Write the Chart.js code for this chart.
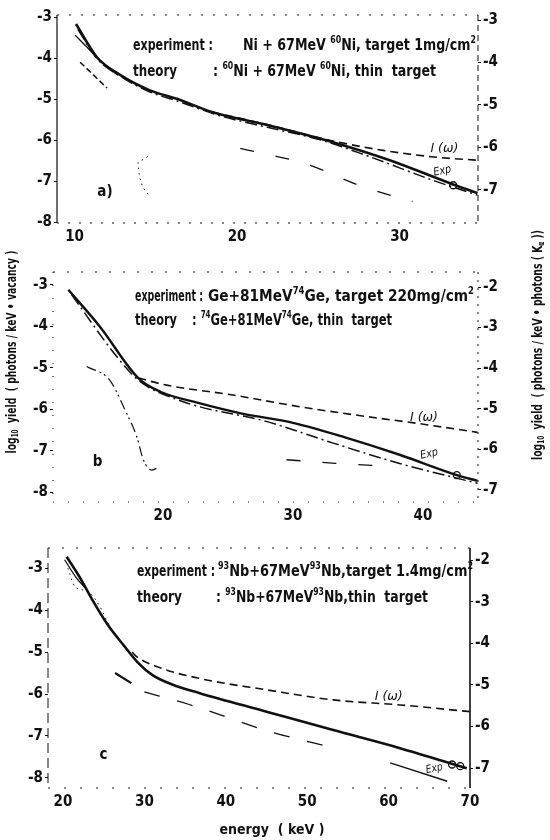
<!DOCTYPE html>
<html>
<head>
<meta charset="utf-8">
<script src="https://cdn.jsdelivr.net/npm/chart.js@4.4.1/dist/chart.umd.min.js"></script>
<style>
  body { margin: 0; background: #fff; width: 550px; height: 840px; position: relative; overflow: hidden; }
  canvas { position: absolute; left: 0; }
</style>
</head>
<body>
<canvas id="panelA" width="550" height="250" style="top:0"></canvas>
<canvas id="panelB" width="550" height="310" style="top:220px"></canvas>
<canvas id="panelC" width="550" height="310" style="top:530px"></canvas>
<script>
// energy (keV), log10 yield pairs for each curve

// a) Ni + Ni
const A_EXP = [[10.09, -3.17], [11.38, -3.98], [12.8, -4.41], [14.6, -4.78], [16.5, -5.02], [18.5, -5.32], [21.85, -5.63], [25.9, -6.05], [29.4, -6.49], [33.3, -7.08], [34.8, -7.29]];
const A_IW = [[18.5, -5.32], [21.85, -5.62], [25.9, -6.02], [29.0, -6.25], [32.1, -6.41], [34.8, -6.49]];
const A_DASHDOT = [[10.2, -3.3], [11.4, -4.02], [12.8, -4.44], [14.6, -4.82], [16.5, -5.07], [18.9, -5.4], [22.0, -5.7], [25.0, -5.98], [28.0, -6.38], [32.2, -7.0], [34.8, -7.34]];
const A_THIN = [[10.03, -3.44], [10.8, -3.75], [11.6, -4.08], [12.6, -4.4]];
const A_SHORT = [[10.34, -4.1], [12.0, -4.73]];
const A_LOW = [[20.2, -6.2], [24.4, -6.6], [27.5, -7.1], [30.8, -7.5]];
const A_DOTS = [[14.5, -6.4], [13.9, -6.55], [14.0, -6.9], [14.2, -7.15], [14.6, -7.35]];
const A_MARK = [[33.3, -7.1]];

// b) Ge + Ge
const B_EXP = [[12.72, -3.12], [15.15, -4.01], [18.1, -5.25], [19.8, -5.58], [22.85, -5.86], [26.0, -6.1], [30.0, -6.33], [34.0, -6.68], [38.2, -7.1], [42.6, -7.59], [44.2, -7.73]];
const B_IW = [[18.1, -5.25], [20.28, -5.42], [25.4, -5.66], [30.5, -5.94], [35.7, -6.18], [39.5, -6.34], [44.2, -6.56]];
const B_DASHDOT = [[12.98, -3.24], [16.44, -4.73], [18.1, -5.3], [21.56, -5.82], [28.0, -6.3], [33.1, -6.82], [38.2, -7.31], [44.2, -7.79]];
const B_STEEP = [[14.13, -4.97], [15.9, -5.3], [17.2, -6.1], [17.98, -6.66], [18.5, -7.23], [19.13, -7.47], [19.5, -7.43]];
const B_LOW = [[29.5, -7.22], [33.0, -7.3], [37.5, -7.38]];
const B_MARK = [[42.6, -7.59]];

// c) Nb + Nb
const C_EXP = [[20.45, -2.73], [22.0, -3.2], [23.5, -3.72], [25.5, -4.35], [27.5, -4.85], [29.2, -5.25], [31.0, -5.55], [33.5, -5.78], [36.8, -5.98], [45.0, -6.42], [53.2, -6.86], [61.4, -7.29], [69.6, -7.77]];
const C_LOOP = [[20.2, -2.8], [21.6, -3.22], [22.6, -3.45]];
const C_IW = [[28.5, -5.0], [29.05, -5.11], [32.0, -5.38], [36.8, -5.63], [45.0, -5.9], [53.2, -6.14], [61.4, -6.26], [70.0, -6.42]];
const C_LOW = [[30.0, -5.95], [35.5, -6.25], [45.5, -6.9], [53.6, -7.3]];
const C_TAIL = [[60.2, -7.64], [67.2, -8.08]];
const C_SEG = [[26.4, -5.5], [28.4, -5.74]];
const C_DOTS = [[20.6, -3.0], [21.5, -3.45], [23.0, -3.55], [24.5, -3.9], [25.5, -4.3], [26.8, -4.7], [28.0, -5.0]];
const C_MARK = [[67.8, -7.68], [68.8, -7.72]];

// tick values
const A_XTICKS = [10, 20, 30];
const A_LEFT = [-3, -4, -5, -6, -7, -8];
const A_RIGHT = [-3, -4, -5, -6, -7];
const B_XTICKS = [20, 30, 40];
const B_LEFT = [-3, -4, -5, -6, -7, -8];
const B_RIGHT = [-2, -3, -4, -5, -6, -7];
const C_XTICKS = [20, 30, 40, 50, 60, 70];
const C_LEFT = [-3, -4, -5, -6, -7, -8];
const C_RIGHT = [-2, -3, -4, -5, -6, -7];

const INK = '#111';
const FONT = '"DejaVu Sans Condensed", "Liberation Sans Narrow", "DejaVu Sans", sans-serif';

// per-canvas text and frame styles, read by the decor plugin
const DECOR = {};

function pts(arr) {
    return arr.map(([x, y]) => ({ x: x, y: y }));
}

function line(arr, width, dash, extra) {
    return Object.assign({
        data: pts(arr),
        borderColor: INK,
        borderWidth: width,
        borderDash: dash || [],
        pointRadius: 0,
        fill: false,
        tension: 0.4,
        cubicInterpolationMode: 'monotone'
    }, extra || {});
}

function marks(arr) {
    return {
        data: pts(arr),
        showLine: false,
        pointRadius: 3.5,
        pointBackgroundColor: '#fff',
        pointBorderColor: INK,
        pointBorderWidth: 1.3
    };
}

// text with super/subscript runs, squeezed to a given width
function drawRich(ctx, item, x, y) {
    const size = item.size || 16;
    const weight = item.weight || 'bold';
    const style = item.italic ? 'italic' : 'normal';
    const runs = item.parts.map(p => typeof p === 'string' ? { t: p } : Object.assign({}, p));
    let total = 0;
    runs.forEach(r => {
        r.s = (r.sup || r.sub) ? size * 0.62 : size;
        ctx.font = style + ' ' + weight + ' ' + r.s + 'px ' + FONT;
        r.w = ctx.measureText(r.t).width;
        total += r.w;
    });
    const sx = item.width ? item.width / total : 1;
    ctx.save();
    ctx.translate(x, y);
    if (item.rotate) ctx.rotate(item.rotate);
    if (item.align === 'center') ctx.translate(-total * sx / 2, 0);
    ctx.scale(sx, 1);
    ctx.fillStyle = INK;
    ctx.textBaseline = 'middle';
    ctx.textAlign = 'left';
    let cx = 0;
    runs.forEach(r => {
        ctx.font = style + ' ' + weight + ' ' + r.s + 'px ' + FONT;
        const dy = r.sup ? -size * 0.36 : (r.sub ? size * 0.3 : 0);
        ctx.fillText(r.t, cx, dy);
        cx += r.w;
    });
    ctx.restore();
}

function edge(ctx, x1, y1, x2, y2, style) {
    if (!style) return;
    ctx.save();
    ctx.strokeStyle = INK;
    ctx.lineWidth = style.w || 1;
    ctx.setLineDash(style.dash || []);
    ctx.beginPath();
    ctx.moveTo(x1, y1);
    ctx.lineTo(x2, y2);
    ctx.stroke();
    ctx.restore();
}

Chart.register({
    id: 'decor',
    beforeDatasetsDraw(chart) {
        const d = DECOR[chart.canvas.id];
        if (!d) return;
        const a = chart.chartArea;
        edge(chart.ctx, a.left, a.top, a.right, a.top, d.frame.top);
        edge(chart.ctx, a.left, a.bottom, a.right, a.bottom, d.frame.bottom);
        edge(chart.ctx, a.left, a.top, a.left, a.bottom, d.frame.left);
        edge(chart.ctx, a.right, a.top, a.right, a.bottom, d.frame.right);
    },
    afterDraw(chart) {
        const d = DECOR[chart.canvas.id];
        if (!d) return;
        d.notes.forEach(item => {
            let x, y;
            if (item.at) {
                x = chart.scales.x.getPixelForValue(item.at[0]);
                y = chart.scales.y.getPixelForValue(item.at[1]);
            } else {
                x = item.px[0];
                y = item.px[1];
            }
            drawRich(chart.ctx, item, x, y);
        });
    }
});

function makeChart(id, cfg) {
    DECOR[id] = { notes: cfg.notes, frame: cfg.frame };
    const fixW = w => scale => { scale.width = w; };
    const fixH = h => scale => { scale.height = h; };
    const setTicks = vals => scale => { scale.ticks = vals.map(v => ({ value: v })); };
    const tickFont = { family: FONT, size: 15, weight: 'bold' };
    const yAxis = (pos, range, ticks, w) => ({
        type: 'linear',
        position: pos,
        min: range[0],
        max: range[1],
        afterBuildTicks: setTicks(ticks),
        afterFit: fixW(w),
        grid: { drawOnChartArea: false, tickLength: 3, color: INK },
        border: { display: false },
        ticks: { color: INK, font: tickFont, padding: 2, callback: v => String(v) }
    });
    return new Chart(document.getElementById(id), {
        type: 'line',
        data: { datasets: cfg.datasets },
        options: {
            responsive: false,
            animation: false,
            layout: { padding: { top: cfg.padTop, left: 0, right: 0, bottom: 0 } },
            plugins: {
                legend: { display: false },
                tooltip: { enabled: false }
            },
            scales: {
                x: {
                    type: 'linear',
                    position: 'bottom',
                    min: cfg.xRange[0],
                    max: cfg.xRange[1],
                    afterBuildTicks: setTicks(cfg.xTicks),
                    afterFit: fixH(cfg.xH),
                    grid: { drawOnChartArea: false, drawTicks: false },
                    border: { display: false },
                    ticks: { color: INK, font: tickFont, padding: 5, maxRotation: 0, autoSkip: false }
                },
                y: yAxis('left', cfg.yRange, cfg.yTicks, cfg.leftW),
                y2: yAxis('right', cfg.y2Range, cfg.y2Ticks, cfg.rightW)
            }
        }
    });
}

const DASH = [8, 5];
const DASHDOT = [12, 4, 2, 4];
const SPARSE = [14, 22];
const DOTTED = [1.5, 4];

const IW_LABEL = ['I (\u03c9)'];

makeChart('panelA', {
    padTop: 15,
    xH: 27,
    leftW: 57,
    rightW: 72,
    xRange: [8.92, 34.83],
    yRange: [-8.02, -2.95],
    y2Range: [-7.78, -2.88],
    xTicks: A_XTICKS,
    yTicks: A_LEFT,
    y2Ticks: A_RIGHT,
    frame: {
        left: { w: 1.2 },
        right: { dash: [6, 4] },
        bottom: { dash: [2, 9] },
        top: { dash: [2, 10] }
    },
    datasets: [
        line(A_EXP, 2.6),
        line(A_THIN, 1.3),
        line(A_IW, 1.6, DASH),
        line(A_DASHDOT, 1.5, DASHDOT),
        line(A_SHORT, 1.5, [6, 3]),
        line(A_LOW, 1.3, SPARSE),
        line(A_DOTS, 1, DOTTED, { tension: 0, cubicInterpolationMode: 'default' }),
        marks(A_MARK)
    ],
    notes: [
        { parts: ['experiment :'], px: [133, 46], width: 80 },
        { parts: ['Ni + 67MeV ', { t: '60', sup: true }, 'Ni, target 1mg/cm', { t: '2', sup: true }], px: [243, 46], width: 233 },
        { parts: ['theory'], px: [133, 72], width: 44 },
        { parts: [': ', { t: '60', sup: true }, 'Ni + 67MeV ', { t: '60', sup: true }, 'Ni, thin  target'], px: [213, 72], width: 223 },
        { parts: IW_LABEL, at: [31.9, -6.22], size: 12, weight: 'normal', italic: true, width: 28 },
        { parts: ['Exp'], at: [32.1, -6.8], size: 11, weight: 'normal', italic: true, rotate: -0.22, width: 18 },
        { parts: ['a)'], at: [11.4, -7.27], size: 15 }
    ]
});

makeChart('panelB', {
    padTop: 52,
    xH: 28,
    leftW: 53,
    rightW: 72,
    xRange: [11.54, 44.23],
    yRange: [-8.24, -2.69],
    y2Range: [-7.3, -1.63],
    xTicks: B_XTICKS,
    yTicks: B_LEFT,
    y2Ticks: B_RIGHT,
    frame: {
        left: { dash: [1, 12] },
        right: { dash: [2, 6] },
        bottom: { dash: [1, 14] },
        top: { dash: [2, 12] }
    },
    datasets: [
        line(B_EXP, 2.4),
        line(B_IW, 1.6, DASH),
        line(B_DASHDOT, 1.5, DASHDOT),
        line(B_STEEP, 1.2, [10, 4, 2, 3, 2, 4]),
        line(B_LOW, 1.3, SPARSE),
        marks(B_MARK)
    ],
    notes: [
        { parts: ['experiment :'], px: [135, 77], width: 68 },
        { parts: ['Ge+81MeV', { t: '74', sup: true }, 'Ge, target 220mg/cm', { t: '2', sup: true }], px: [208, 77], width: 266 },
        { parts: ['theory'], px: [135, 101], width: 42 },
        { parts: [': ', { t: '74', sup: true }, 'Ge+81MeV', { t: '74', sup: true }, 'Ge, thin  target'], px: [192, 101], width: 200 },
        { parts: IW_LABEL, at: [39.0, -6.2], size: 12, weight: 'normal', italic: true, width: 28 },
        { parts: ['Exp'], at: [39.8, -7.13], size: 11, weight: 'normal', italic: true, rotate: -0.22, width: 18 },
        { parts: ['b'], at: [14.6, -7.27], size: 15 },
        // side titles for the whole figure
        { parts: ['log', { t: '10', sub: true }, '  yield  ( photons / keV \u2022 vacancy )'], px: [12, 132], rotate: -Math.PI / 2, align: 'center', size: 14, width: 203 },
        { parts: ['log', { t: '10', sub: true }, '  yield  ( photons / keV \u2022 photons ( K', { t: '\u03b1', sub: true }, ' ))'], px: [538, 125], rotate: -Math.PI / 2, align: 'center', size: 14, width: 230 }
    ]
});

makeChart('panelC', {
    padTop: 18,
    xH: 52,
    leftW: 48,
    rightW: 80,
    xRange: [18.16, 70],
    yRange: [-8.24, -2.52],
    y2Range: [-7.48, -1.71],
    xTicks: C_XTICKS,
    yTicks: C_LEFT,
    y2Ticks: C_RIGHT,
    frame: {
        left: { dash: [10, 5] },
        right: { w: 1.6 },
        bottom: { dash: [2, 14] },
        top: { dash: [2, 12] }
    },
    datasets: [
        line(C_EXP, 2.6),
        line(C_LOOP, 1.3),
        line(C_IW, 1.6, DASH),
        line(C_LOW, 1.3, [16, 18]),
        line(C_TAIL, 1.4),
        line(C_SEG, 2.2),
        line(C_DOTS, 1, DOTTED),
        marks(C_MARK)
    ],
    notes: [
        { parts: ['experiment :'], px: [137, 42], width: 78 },
        { parts: [{ t: '93', sup: true }, 'Nb+67MeV', { t: '93', sup: true }, 'Nb,target 1.4mg/cm', { t: '2', sup: true }], px: [218, 42], width: 255 },
        { parts: ['theory'], px: [137, 68], width: 45 },
        { parts: [': ', { t: '93', sup: true }, 'Nb+67MeV', { t: '93', sup: true }, 'Nb,thin  target'], px: [216, 68], width: 212 },
        { parts: IW_LABEL, at: [58.3, -6.06], size: 12, weight: 'normal', italic: true, width: 28 },
        { parts: ['Exp'], at: [64.6, -7.82], size: 11, weight: 'normal', italic: true, rotate: -0.2, width: 17 },
        { parts: ['c'], at: [24.5, -7.45], size: 15 },
        { parts: ['energy  ( keV )'], px: [272, 300], align: 'center', size: 14, width: 105 }
    ]
});
</script>
</body>
</html>
